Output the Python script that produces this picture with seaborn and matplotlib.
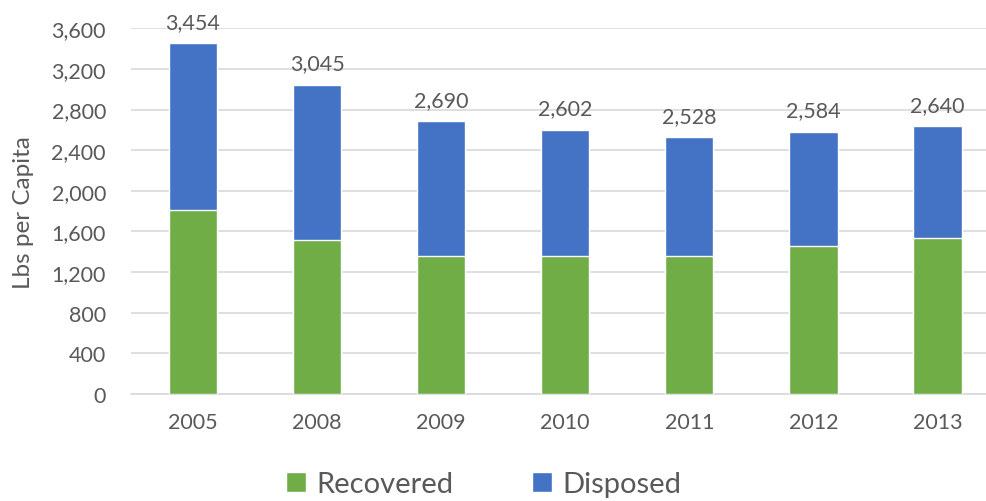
import matplotlib
matplotlib.use("Agg")
import matplotlib.pyplot as plt
from matplotlib.patches import Patch
from matplotlib.ticker import FuncFormatter
import seaborn as sns
import pandas as pd

# Annual waste per capita (lbs)
years = ["2005", "2008", "2009", "2010", "2011", "2012", "2013"]
totals = [3454, 3045, 2690, 2602, 2528, 2584, 2640]
recovered = [1812, 1519, 1355, 1355, 1355, 1454, 1539]

GREEN = "#70AD47"
BLUE = "#4472C4"
TEXT = "#595959"
GRID = "#D9D9D9"

sns.set_theme(style="white")
plt.rcParams["font.family"] = ["Lato", "DejaVu Sans"]

df = pd.DataFrame({"year": years, "total": totals, "recovered": recovered})

fig = plt.figure(figsize=(9.87, 5.02), dpi=100)
ax = fig.add_axes([0.1327, 0.2131, 0.8673, 0.7285])

# Disposed sits on top of recovered: draw the full stack in blue, then the recovered part in green
sns.barplot(data=df, x="year", y="total", color=BLUE, width=0.39, saturation=1,
            ax=ax, zorder=2)
sns.barplot(data=df, x="year", y="recovered", color=GREEN, width=0.39, saturation=1,
            ax=ax, zorder=3)

for i, t in enumerate(totals):
    ax.annotate(f"{t:,}", xy=(i, t), xytext=(0, 8), textcoords="offset points",
                ha="center", va="bottom", fontsize=15.5, color=TEXT)

ax.set_ylim(0, 3600)
ax.set_xlim(-0.5, 6.40)
ax.set_yticks(range(0, 3601, 400))
ax.yaxis.set_major_formatter(FuncFormatter(lambda v, p: f"{int(v):,}"))
ax.grid(axis="y", color=GRID, linewidth=1.2, zorder=0)
ax.set_axisbelow(True)
for s in ["top", "right", "left"]:
    ax.spines[s].set_visible(False)
ax.spines["bottom"].set_color(GRID)
ax.spines["bottom"].set_linewidth(1.2)

ax.tick_params(axis="y", length=0, pad=18, labelsize=15.5, labelcolor=TEXT)
ax.tick_params(axis="x", length=0, pad=13, labelsize=15.5, labelcolor=TEXT)
ax.set_xlabel("")
ax.set_ylabel("Lbs per Capita", fontsize=17.5, color=TEXT)
ax.yaxis.set_label_coords(-0.113, 0.5)

handles = [Patch(facecolor=GREEN, label="Recovered"), Patch(facecolor=BLUE, label="Disposed")]
fig.legend(handles=handles, loc="center", bbox_to_anchor=(0.49, 0.034), ncol=2,
           frameon=False, fontsize=21, labelcolor=TEXT, handlelength=0.7,
           handleheight=0.7, handletextpad=0.35, columnspacing=2.7)

fig.savefig("out.png", dpi=100)
